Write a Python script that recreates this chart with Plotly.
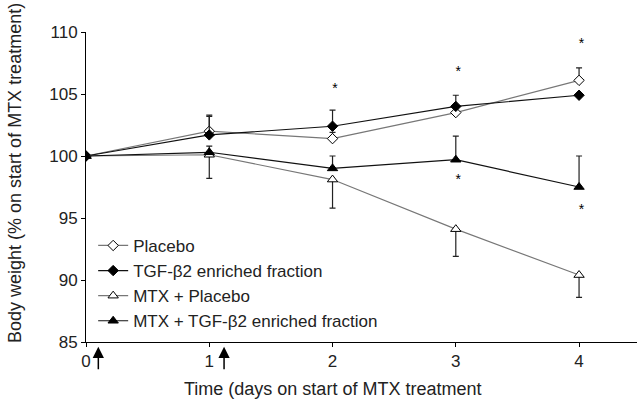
import plotly.graph_objects as go

days = [0, 1, 2, 3, 4]

placebo = [100, 102.0, 101.4, 103.5, 106.1]
placebo_err_up = [0, 1.2, 0.5, 0, 1.0]

tgf = [100, 101.7, 102.4, 104.0, 104.9]
tgf_err_up = [0, 1.6, 1.3, 0.9, 0]

mtx_placebo = [100, 100.1, 98.1, 94.1, 90.4]
mtx_placebo_err_dn = [0, 1.9, 2.3, 2.2, 1.8]

mtx_tgf = [100, 100.3, 99.0, 99.7, 97.5]
mtx_tgf_err_up = [0, 0.5, 1.0, 1.9, 2.5]

star_x = [2.02, 3.02, 4.02, 3.02, 4.02]
star_y = [105.4, 106.7, 109.0, 98.0, 95.6]

arrow_x = [0.1, 1.12]

font = "Liberation Sans, Arial, sans-serif"

fig = go.Figure()

def add(name, y, symbol, size, color, fill, err_up=None, err_dn=None):
    ey = dict(type="data", symmetric=False,
              array=err_up if err_up is not None else [0]*len(y),
              arrayminus=err_dn if err_dn is not None else [0]*len(y),
              color="#222", thickness=1.2, width=3)
    fig.add_trace(go.Scatter(
        x=days, y=y, name=name, mode="lines+markers",
        line=dict(color=color, width=1.2),
        marker=dict(symbol=symbol, size=size, color=fill,
                    line=dict(color="black", width=1)),
        error_y=ey))

add("Placebo", placebo, "diamond", 8, "#777", "white", err_up=placebo_err_up)
add("TGF-β2 enriched fraction", tgf, "diamond", 8, "#111", "black", err_up=tgf_err_up)
add("MTX + Placebo", mtx_placebo, "triangle-up", 9, "#777", "white", err_dn=mtx_placebo_err_dn)
add("MTX + TGF-β2 enriched fraction", mtx_tgf, "triangle-up", 9, "#111", "black", err_up=mtx_tgf_err_up)

fig.add_trace(go.Scatter(x=star_x, y=star_y, mode="text", text=["*"]*len(star_x),
                         textfont=dict(size=14, color="black", family=font),
                         showlegend=False, hoverinfo="skip"))

for ax_ in arrow_x:
    fig.add_annotation(x=ax_, y=-0.015, xref="x", yref="paper",
                       ax=0, ay=24, axref="pixel", ayref="pixel",
                       showarrow=True, arrowhead=2, arrowsize=1.5, arrowwidth=1.5,
                       arrowcolor="black", text="")

fig.add_annotation(text="Time (days on start of MTX treatment", xref="paper", yref="paper",
                   x=0.448, y=-0.152, showarrow=False, xanchor="center", yanchor="middle",
                   font=dict(size=18, family=font, color="#222"))
fig.add_annotation(text="Body weight (% on start of MTX treatment)", xref="paper", yref="paper",
                   x=-0.129, y=0.545, showarrow=False, textangle=-90,
                   xanchor="center", yanchor="middle",
                   font=dict(size=18, family=font, color="#222"))

fig.update_layout(
    width=638, height=400,
    margin=dict(l=86, r=1, t=32, b=58),
    paper_bgcolor="white", plot_bgcolor="white",
    font=dict(family=font, size=16, color="#222"),
    legend=dict(x=0.013, y=0.368, xanchor="left", yanchor="top",
                bgcolor="rgba(0,0,0,0)", font=dict(size=17, family=font),
                tracegroupgap=0, itemwidth=30),
    showlegend=True,
)
fig.update_xaxes(range=[0, 4.47], tickvals=days, ticktext=[str(d) for d in days],
                 showline=True, linecolor="black", linewidth=1,
                 ticks="outside", ticklen=4, tickcolor="black",
                 showgrid=False, zeroline=False,
                 tickfont=dict(size=17))
fig.update_yaxes(range=[85, 110], tickvals=[85, 90, 95, 100, 105, 110],
                 showline=True, linecolor="black", linewidth=1,
                 ticks="outside", ticklen=4, tickcolor="black",
                 showgrid=False, zeroline=False,
                 tickfont=dict(size=17))

fig.write_html("out.html")
